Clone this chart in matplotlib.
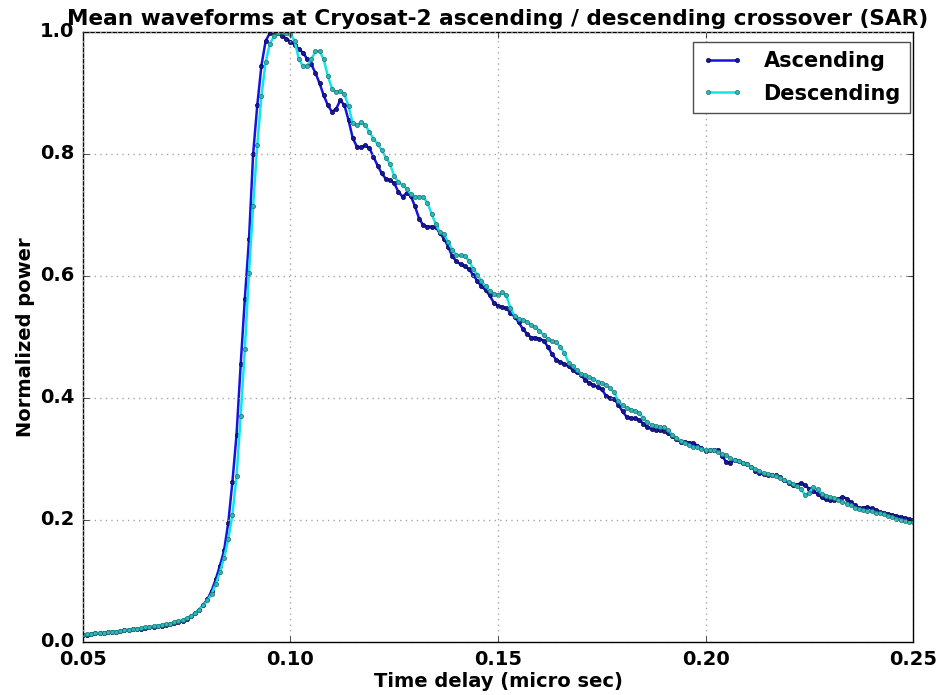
import numpy as np
import matplotlib
matplotlib.use("Agg")
import matplotlib.pyplot as plt

# time axis: one sample every 0.001 micro sec, 0.05 -> 0.25
time_us = np.linspace(0.05, 0.25, 201)

ascending = [
    0.012, 0.012, 0.013, 0.014, 0.014, 0.015, 0.016, 0.016, 0.017, 0.018,
    0.019, 0.020, 0.021, 0.021, 0.022, 0.023, 0.024, 0.025, 0.026, 0.027,
    0.028, 0.029, 0.031, 0.033, 0.035, 0.038, 0.042, 0.047, 0.053, 0.061,
    0.070, 0.084, 0.103, 0.125, 0.150, 0.195, 0.262, 0.340, 0.455, 0.563,
    0.660, 0.800, 0.880, 0.945, 0.985, 0.998, 1.000, 0.998, 0.994, 0.989,
    0.984, 0.979, 0.972, 0.966, 0.956, 0.947, 0.933, 0.916, 0.896, 0.880,
    0.869, 0.874, 0.888, 0.880, 0.855, 0.826, 0.812, 0.811, 0.814, 0.810,
    0.795, 0.781, 0.768, 0.759, 0.757, 0.752, 0.738, 0.730, 0.736, 0.731,
    0.714, 0.694, 0.683, 0.681, 0.681, 0.680, 0.670, 0.661, 0.648, 0.632,
    0.624, 0.619, 0.616, 0.611, 0.602, 0.592, 0.583, 0.577, 0.568, 0.556,
    0.551, 0.549, 0.547, 0.540, 0.533, 0.524, 0.513, 0.505, 0.499, 0.499,
    0.497, 0.494, 0.484, 0.472, 0.463, 0.459, 0.456, 0.452, 0.446, 0.442,
    0.438, 0.429, 0.425, 0.421, 0.418, 0.414, 0.404, 0.400, 0.398, 0.389,
    0.378, 0.369, 0.367, 0.367, 0.364, 0.358, 0.352, 0.349, 0.348, 0.348,
    0.346, 0.342, 0.337, 0.332, 0.328, 0.328, 0.327, 0.326, 0.322, 0.318,
    0.313, 0.314, 0.315, 0.315, 0.305, 0.295, 0.294, 0.298, 0.296, 0.294,
    0.291, 0.287, 0.281, 0.277, 0.275, 0.274, 0.274, 0.273, 0.270, 0.265,
    0.261, 0.257, 0.258, 0.260, 0.257, 0.251, 0.247, 0.243, 0.237, 0.234,
    0.233, 0.233, 0.234, 0.238, 0.235, 0.229, 0.224, 0.220, 0.220, 0.221,
    0.219, 0.216, 0.213, 0.211, 0.210, 0.208, 0.207, 0.205, 0.203, 0.201,
    0.200,
]

descending = [
    0.012, 0.013, 0.013, 0.014, 0.015, 0.015, 0.016, 0.017, 0.017, 0.018,
    0.019, 0.020, 0.021, 0.022, 0.023, 0.024, 0.025, 0.026, 0.027, 0.028,
    0.029, 0.030, 0.032, 0.034, 0.036, 0.039, 0.043, 0.047, 0.053, 0.060,
    0.068, 0.079, 0.095, 0.114, 0.138, 0.168, 0.208, 0.272, 0.370, 0.480,
    0.605, 0.715, 0.815, 0.895, 0.950, 0.980, 0.993, 0.998, 1.000, 0.999,
    0.997, 0.985, 0.956, 0.944, 0.945, 0.955, 0.968, 0.969, 0.955, 0.928,
    0.907, 0.901, 0.904, 0.898, 0.878, 0.850, 0.847, 0.852, 0.848, 0.836,
    0.825, 0.816, 0.806, 0.794, 0.783, 0.764, 0.754, 0.749, 0.743, 0.734,
    0.730, 0.730, 0.729, 0.720, 0.702, 0.685, 0.672, 0.668, 0.656, 0.643,
    0.634, 0.634, 0.633, 0.625, 0.612, 0.602, 0.592, 0.583, 0.576, 0.571,
    0.569, 0.573, 0.568, 0.547, 0.535, 0.530, 0.528, 0.525, 0.520, 0.516,
    0.510, 0.503, 0.497, 0.493, 0.491, 0.484, 0.474, 0.458, 0.452, 0.446,
    0.440, 0.437, 0.434, 0.431, 0.427, 0.424, 0.421, 0.416, 0.409, 0.395,
    0.388, 0.383, 0.381, 0.379, 0.376, 0.367, 0.360, 0.356, 0.354, 0.353,
    0.352, 0.348, 0.340, 0.335, 0.330, 0.326, 0.323, 0.320, 0.319, 0.317,
    0.315, 0.315, 0.314, 0.311, 0.308, 0.307, 0.302, 0.298, 0.296, 0.294,
    0.291, 0.287, 0.283, 0.280, 0.277, 0.275, 0.274, 0.272, 0.269, 0.266,
    0.263, 0.259, 0.255, 0.250, 0.241, 0.245, 0.254, 0.250, 0.243, 0.240,
    0.238, 0.236, 0.233, 0.230, 0.227, 0.224, 0.220, 0.218, 0.216, 0.215,
    0.214, 0.212, 0.211, 0.209, 0.207, 0.205, 0.202, 0.200, 0.198, 0.197,
    0.196,
]

plt.style.use("classic")
plt.rcParams["font.family"] = "DejaVu Sans"
plt.rcParams["font.weight"] = "bold"
plt.rcParams["axes.labelweight"] = "bold"
plt.rcParams["figure.facecolor"] = "white"
plt.rcParams["savefig.facecolor"] = "white"

fig = plt.figure(figsize=(9.43, 6.95), dpi=100)
ax = fig.add_axes([0.088, 0.0763, 0.8802, 0.8777])

ax.plot(time_us, ascending, "-", marker=".", color="#1414e0", lw=1.8, ms=6,
        mfc="#1818a0", mec="#000050", mew=0.5, label="Ascending")
ax.plot(time_us, descending, "-", marker=".", color="#10e6e6", lw=1.8, ms=6,
        mfc="#30b8b8", mec="#1d6e6e", mew=0.5, label="Descending")

ax.set_xlim(0.05, 0.25)
ax.set_ylim(0.0, 1.0)
ax.set_xticks([0.05, 0.10, 0.15, 0.20, 0.25])
ax.set_xticklabels(["0.05", "0.10", "0.15", "0.20", "0.25"])
ax.set_yticks([0.0, 0.2, 0.4, 0.6, 0.8, 1.0])
ax.set_yticklabels(["0.0", "0.2", "0.4", "0.6", "0.8", "1.0"])
ax.tick_params(labelsize=14, pad=6)
for lab in ax.get_xticklabels() + ax.get_yticklabels():
    lab.set_fontweight("bold")

ax.grid(True, color="0.65", linestyle=":", linewidth=1)
ax.set_xlabel("Time delay (micro sec)", fontsize=14, fontweight="bold", labelpad=2)
ax.set_ylabel("Normalized power", fontsize=14, fontweight="bold", labelpad=4)
ax.set_title("Mean waveforms at Cryosat-2 ascending / descending crossover (SAR)",
             fontsize=15.6, fontweight="bold", pad=5)

leg = ax.legend(loc="upper right", bbox_to_anchor=(0.9964, 0.9841), borderaxespad=0,
                numpoints=2, prop={"size": 15, "weight": "bold"},
                handlelength=2.0, handletextpad=0.95, labelspacing=0.6, borderpad=0.45)
leg.get_frame().set_edgecolor("0.3")

fig.savefig("out.png", dpi=100)
